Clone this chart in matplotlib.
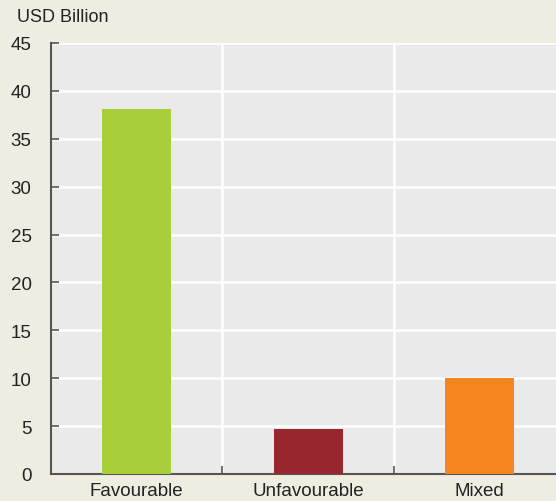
import matplotlib
matplotlib.use('Agg')
import matplotlib.pyplot as plt

categories = ['Favourable', 'Unfavourable', 'Mixed']
values = [38.1, 4.7, 10.0]
colors = ['#a8cf3a', '#97262f', '#f5851f']
yticks = [0, 5, 10, 15, 20, 25, 30, 35, 40, 45]

plt.rcParams['font.family'] = ['Liberation Sans Narrow', 'Liberation Sans', 'DejaVu Sans']

fig = plt.figure(figsize=(5.56, 5.02), dpi=100, facecolor='#efece1')
ax = fig.add_axes([51/556, 27/502, 1 - 51/556, 431/502])
ax.set_facecolor('#eaeaea')

x = range(len(categories))
ax.bar(x, values, width=0.4, color=colors, zorder=3)

ax.set_ylim(0, 45)
ax.set_xlim(-0.5, 2.445)
ax.set_yticks(yticks)
ax.set_yticklabels([str(t) for t in yticks], fontsize=13.5, color='#222222')
ax.set_xticks(list(x))
ax.set_xticklabels(categories, fontsize=13.5, color='#222222')
ax.tick_params(axis='x', length=0, pad=6)
ax.tick_params(axis='y', direction='in', length=6, width=1.2, color='#555555', pad=14)

# separators between categories
ax.set_xticks([0.5, 1.5], minor=True)
ax.tick_params(axis='x', which='minor', direction='in', length=6, width=1.2, color='#555555')
for sep in [0.5, 1.5]:
    ax.axvline(sep, color='white', lw=1.8, zorder=1)
ax.yaxis.grid(True, color='white', lw=1.8, zorder=1)

for s in ['top', 'right']:
    ax.spines[s].set_visible(False)
for s in ['left', 'bottom']:
    ax.spines[s].set_color('#555555')
    ax.spines[s].set_linewidth(1.5)

fig.text(17/556, 1 - 18/502, 'USD Billion', fontsize=13, color='#222222', va='center', ha='left')

plt.savefig('out.png', facecolor=fig.get_facecolor())
